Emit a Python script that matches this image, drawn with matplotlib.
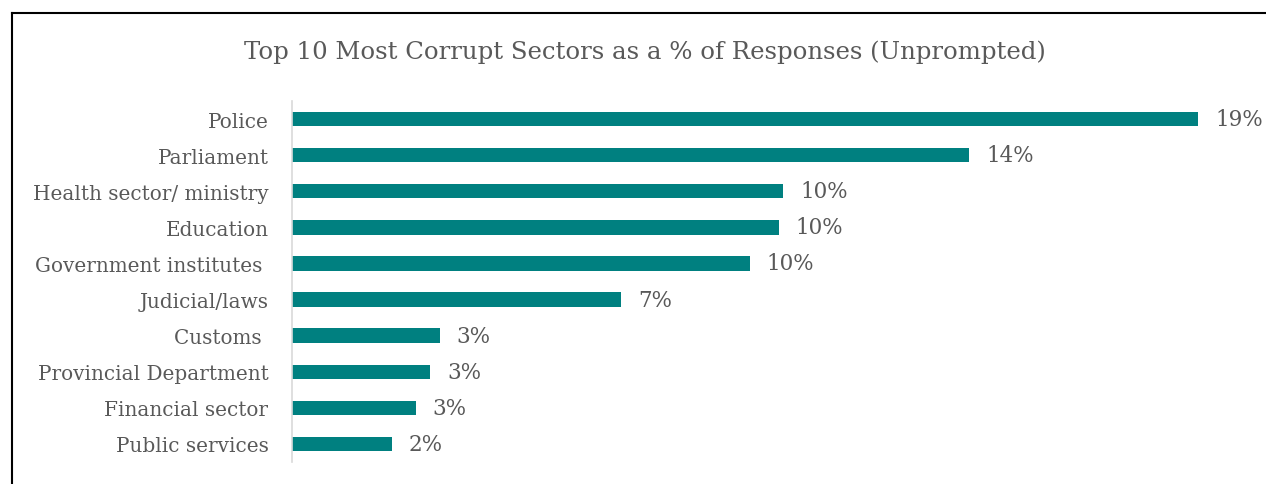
import matplotlib
matplotlib.use("Agg")
import matplotlib.pyplot as plt
from matplotlib.lines import Line2D

sectors = ["Police", "Parliament", "Health sector/ ministry", "Education",
           "Government institutes ", "Judicial/laws", "Customs ",
           "Provincial Department", "Financial sector", "Public services"]
share = [19.0, 14.2, 10.3, 10.2, 9.6, 6.9, 3.1, 2.9, 2.6, 2.1]

title = "Top 10 Most Corrupt Sectors as a % of Responses (Unprompted)"

teal = "#008080"
grey_text = "#595959"

plt.rcParams['font.family'] = ['DejaVu Serif']

W, H = 1266, 485
fig = plt.figure(figsize=(W / 100, H / 100), dpi=100)
ax = fig.add_axes([292 / W, 1 - 463 / H, (1246 - 292) / W, (463 - 102) / H])

pos = list(range(len(sectors)))
ax.barh(pos, share, height=0.4, color=teal)
for p, v in zip(pos, share):
    ax.text(v + 0.35, p, "{:.0f}%".format(v), va="center", ha="left",
            fontsize=15.5, color=grey_text)

ax.set_xlim(0, 20)
ax.set_ylim(len(sectors) - 0.5, -0.5)
ax.set_yticks(pos)
ax.set_yticklabels(sectors, fontsize=14.4, color=grey_text)
ax.tick_params(axis="y", length=0, pad=17)
ax.set_xticks([])
for s in ["top", "right", "bottom"]:
    ax.spines[s].set_visible(False)
ax.spines["left"].set_color("#d9d9d9")
ax.spines["left"].set_linewidth(1.2)

fig.text(645 / W, 1 - 52 / H, title, ha="center", va="center",
         fontsize=17.6, color=grey_text)

# outer frame: top and left edges only
fig.add_artist(Line2D([12 / W, 1.0], [1 - 14 / H, 1 - 14 / H], color="black", lw=1.5,
                      transform=fig.transFigure))
fig.add_artist(Line2D([12 / W, 12 / W], [0, 1 - 14 / H], color="black", lw=1.5,
                      transform=fig.transFigure))

fig.savefig("out.png", dpi=100)
